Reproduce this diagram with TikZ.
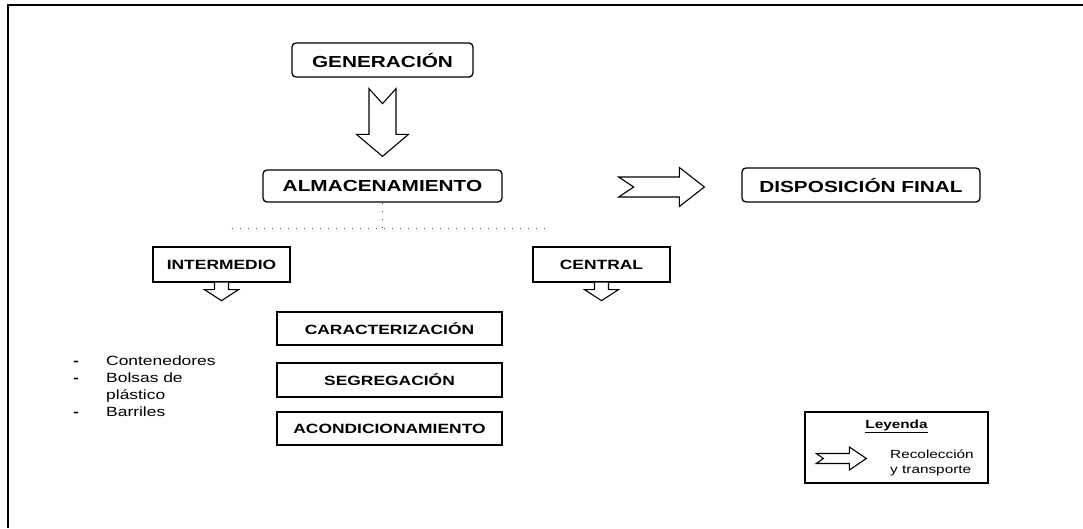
\documentclass[tikz,border=0pt]{standalone}
\usepackage{fontspec}
\setmainfont{Liberation Sans}[FakeStretch=1.3]
\usetikzlibrary{calc}

\tikzset{
  etapa/.style={draw, line width=1.3pt, rounded corners=4pt, inner sep=0pt,
    font=\bfseries\fontsize{16}{19}\selectfont},
  tipo/.style={draw, line width=1.3pt, inner sep=0pt,
    font=\bfseries\fontsize{13.4}{16}\selectfont},
  flecha/.style={draw, line width=1.1pt, fill=white, line join=miter},
  puntos/.style={line width=0.9pt, dash pattern=on 1pt off 7pt, black!70},
}

\begin{document}
\begin{tikzpicture}[x=1pt, y=-1pt]
            \useasboundingbox (0,0) rectangle (1083,528);
            \draw[line width=1.8pt] (1083,5) -- (8,5) -- (8,528); % marco

            \node[etapa, minimum width=181pt, minimum height=34pt] (gen) at (382.5,60) {GENERACIÓN};
            \node[etapa, minimum width=239pt, minimum height=32pt] (alm) at (382.5,186) {ALMACENAMIENTO};
            \node[etapa, minimum width=238pt, minimum height=34pt] (disp) at (861,185) {DISPOSICIÓN FINAL};

            \node[tipo, minimum width=137pt, minimum height=35pt] (inter) at (221.5,264.5) {INTERMEDIO};
            \node[tipo, minimum width=137pt, minimum height=35pt] (central) at (601.5,264.5) {CENTRAL};

            \node[tipo, minimum width=225pt, minimum height=33pt] (carac) at (389.5,328.5) {CARACTERIZACIÓN};
            \node[tipo, minimum width=225pt, minimum height=34pt] (seg) at (389.5,380) {SEGREGACIÓN};
            \node[tipo, minimum width=225pt, minimum height=33pt] (acon) at (389.5,428.5) {ACONDICIONAMIENTO};

            \node[anchor=north west, inner sep=0pt, align=left, font=\fontsize{13.4}{17}\selectfont] (lista) at (73,356)
              {\makebox[33pt][l]{\bfseries -}Contenedores\\\makebox[33pt][l]{\bfseries -}Bolsas de\\\makebox[33pt][l]{}plástico\\\makebox[33pt][l]{\bfseries -}Barriles};

            % generacion -> almacenamiento
            \coordinate (a) at ($(gen.south)+(0,11)$);
            \coordinate (b) at ($(alm.north)+(0,-13)$);
            \draw[flecha] ($(a)+(-13.5,0)$) -- ($(a)+(0,15)$) -- ($(a)+(13.5,0)$) -- ($(b)+(13.5,-22)$)
              -- ($(b)+(26,-22)$) -- (b) -- ($(b)+(-26,-22)$) -- ($(b)+(-13.5,-22)$) -- cycle;

            % almacenamiento -> disposicion final
            \coordinate (c) at ($(alm.east)+(116,1)$);
            \coordinate (d) at ($(disp.west)+(-37,2)$);
            \draw[flecha] ($(c)+(0,-10)$) -- ($(d)+(-25,-10)$) -- ($(d)+(-25,-19.5)$) -- (d)
              -- ($(d)+(-25,19.5)$) -- ($(d)+(-25,10)$) -- ($(c)+(0,10)$) -- ($(c)+(15,0)$) -- cycle;

            % almacenamiento -> intermedio / central
            \draw[puntos] (alm.south) -- ++(0,26) coordinate (cruce);
            \draw[puntos] ($(cruce)+(-151,0)$) -- ($(cruce)+(165,0)$);

            \draw[flecha] ($(inter.south)+(-7,0)$) -- ++(0,7) -- ++(-10,0) -- ++(17,11) -- ++(17,-11) -- ++(-10,0) -- ++(0,-7);
            \draw[flecha] ($(central.south)+(-7,0)$) -- ++(0,7) -- ++(-10,0) -- ++(17,11) -- ++(17,-11) -- ++(-10,0) -- ++(0,-7);

            % leyenda
            \node[draw, line width=1.3pt, minimum width=183pt, minimum height=71pt] (ley) at (896.5,447.5) {};
            \node[font=\bfseries\fontsize{11.8}{14}\selectfont] (leytit) at (896.5,426) {\underline{Leyenda}};
            \node[anchor=west, inner sep=0pt, align=left, font=\fontsize{11.8}{15}\selectfont] (leytxt) at (890,462.5)
              {Recolección\\y transporte};
            \coordinate (lt) at ($(ley.west)+(12,11)$);
            \coordinate (lh) at ($(lt)+(50,0)$);
            \draw[flecha] ($(lt)+(0,-5)$) -- ($(lh)+(-17,-5)$) -- ($(lh)+(-17,-11.5)$) -- (lh)
              -- ($(lh)+(-17,11.5)$) -- ($(lh)+(-17,5)$) -- ($(lt)+(0,5)$) -- ($(lt)+(7,0)$) -- cycle;
        \end{tikzpicture}
\end{document}
